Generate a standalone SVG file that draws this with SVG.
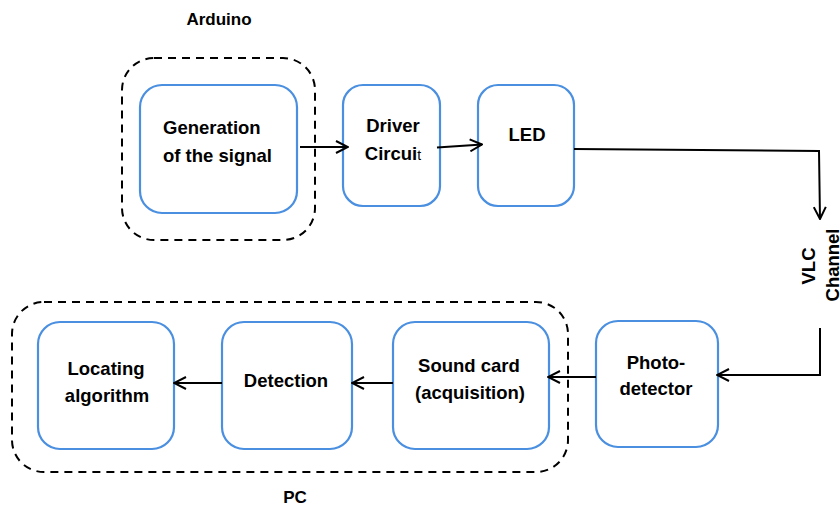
<svg xmlns="http://www.w3.org/2000/svg" width="840" height="510" viewBox="0 0 840 510">
  <defs>
    <marker id="arrow" viewBox="0 0 14 14" refX="13" refY="7" markerWidth="14" markerHeight="14" markerUnits="userSpaceOnUse" orient="auto">
      <path d="M1,1 L13,7 L1,13" fill="none" stroke="#000" stroke-width="2"/>
    </marker>
  </defs>
  <style>
    .node { fill: #fff; stroke: #4a8fe0; stroke-width: 2.2; }
    .group { fill: none; stroke: #000; stroke-width: 2; stroke-dasharray: 8 6; }
    .label { font-family: "Liberation Sans", Arial, sans-serif; font-weight: bold; font-size: 18.5px; fill: #000; text-anchor: middle; }
    .wire { fill: none; stroke: #000; stroke-width: 2; }
  </style>

  <rect width="840" height="510" fill="#fff"/>

  <!-- grouping frames -->
  <g id="arduino">
    <rect class="group" x="122" y="58" width="193" height="182" rx="32"/>
    <text class="label" x="219" y="25" style="font-size:17px">Arduino</text>
  </g>
  <g id="pc">
    <rect class="group" x="12" y="302" width="556" height="170" rx="32"/>
    <text class="label" x="295" y="503" style="font-size:17px">PC</text>
  </g>

  <!-- blocks -->
  <g id="generation">
    <rect class="node" x="140" y="85" width="157" height="128" rx="22"/>
    <text class="label" x="163" y="134" style="text-anchor:start">Generation</text>
    <text class="label" x="163" y="162" style="text-anchor:start">of the signal</text>
  </g>
  <g id="driver">
    <rect class="node" x="343" y="85" width="97" height="121" rx="20"/>
    <text class="label" x="393" y="132">Driver</text>
    <text class="label" x="393" y="160">Circui<tspan style="font-weight:normal;font-size:14px">t</tspan></text>
  </g>
  <g id="led">
    <rect class="node" x="478" y="85" width="96" height="121" rx="20"/>
    <text class="label" x="527" y="141">LED</text>
  </g>
  <g id="photodetector">
    <rect class="node" x="596" y="321" width="122" height="126" rx="22"/>
    <text class="label" x="656" y="369">Photo-</text>
    <text class="label" x="656" y="395">detector</text>
  </g>
  <g id="soundcard">
    <rect class="node" x="393" y="322" width="156" height="127" rx="22"/>
    <text class="label" x="469" y="372">Sound card</text>
    <text class="label" x="470" y="399">(acquisition)</text>
  </g>
  <g id="detection">
    <rect class="node" x="222" y="322" width="130" height="127" rx="22"/>
    <text class="label" x="286" y="387">Detection</text>
  </g>
  <g id="locating">
    <rect class="node" x="38" y="322" width="136" height="127" rx="22"/>
    <text class="label" x="106" y="375">Locating</text>
    <text class="label" x="107" y="402">algorithm</text>
  </g>

  <!-- VLC channel label -->
  <g id="vlc-channel">
    <text class="label" transform="translate(815,266) rotate(-90)">VLC</text>
    <text class="label" transform="translate(839,265) rotate(-90)">Channel</text>
  </g>

  <!-- connectors -->
  <g id="connectors">
    <line class="wire" x1="300" y1="147" x2="348" y2="147" marker-end="url(#arrow)"/>
    <line class="wire" x1="437" y1="147.5" x2="482" y2="144.5" marker-end="url(#arrow)"/>
    <polyline class="wire" points="574,149 819,151 820,219" marker-end="url(#arrow)"/>
    <polyline class="wire" points="820,328 820,375 717,375" marker-end="url(#arrow)"/>
    <line class="wire" x1="596" y1="377" x2="548" y2="377" marker-end="url(#arrow)"/>
    <line class="wire" x1="393" y1="383" x2="352" y2="383" marker-end="url(#arrow)"/>
    <line class="wire" x1="222" y1="383" x2="174" y2="383" marker-end="url(#arrow)"/>
  </g>
</svg>
